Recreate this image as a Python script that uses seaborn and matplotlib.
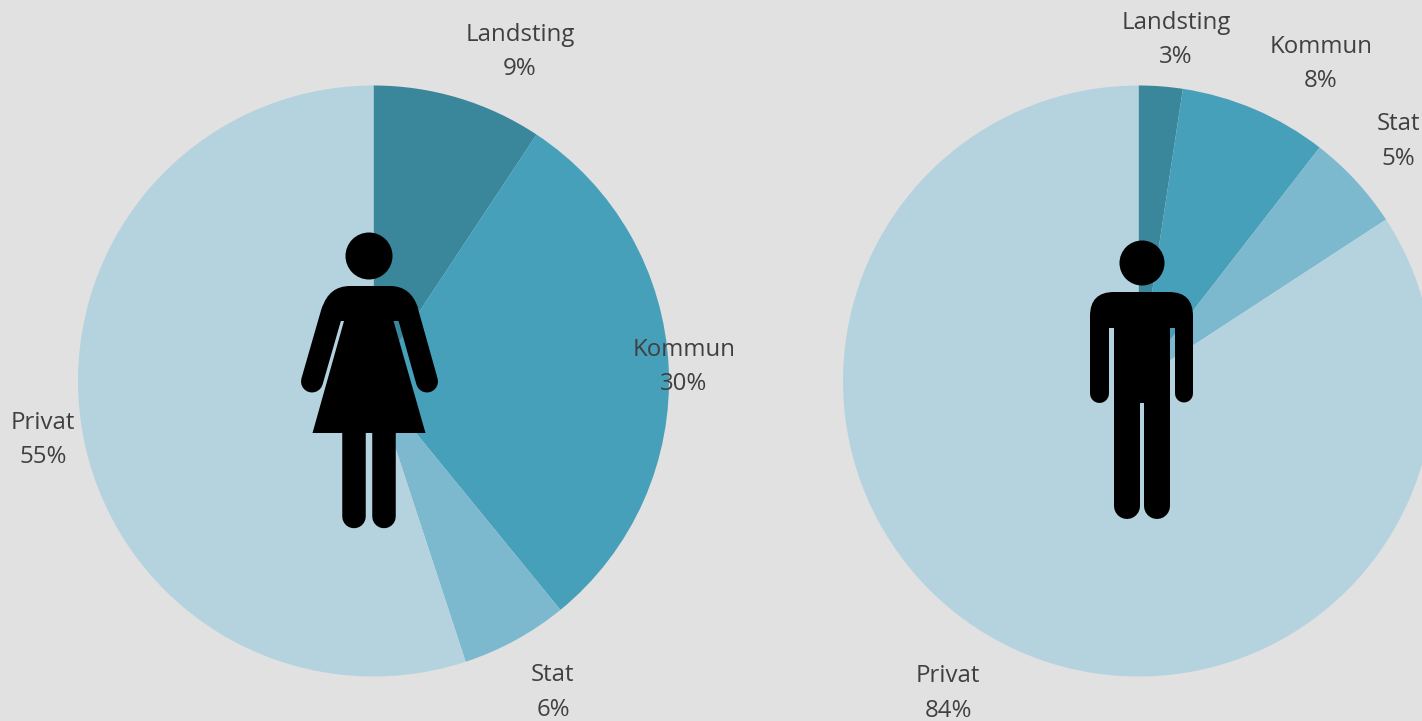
import matplotlib
matplotlib.use("Agg")
import matplotlib.pyplot as plt
from matplotlib.patches import Circle, PathPatch
from matplotlib.path import Path
import seaborn as sns

W, H = 1422, 721

sectors = ["Landsting", "Kommun", "Stat", "Privat"]
women = [9.3, 29.8, 5.85, 55.05]
men = [2.4, 8.1, 5.3, 84.2]
women_pct = ["9%", "30%", "6%", "55%"]
men_pct = ["3%", "8%", "5%", "84%"]

sns.set_theme(style="white")
plt.rcParams["font.family"] = ["Open Sans", "DejaVu Sans"]
colors = sns.color_palette(["#3A869B", "#46A0BA", "#7CB8CE", "#B5D3DE"])
BG = "#E1E1E1"
TEXT = "#404040"

fig = plt.figure(figsize=(W / 100, H / 100), dpi=100, facecolor=BG)


# pie axes placed by pixel centre
def draw_pie(values, cx, cy, r=295.5):
    ax = fig.add_axes([(cx - r) / W, 1 - (cy + r) / H, 2 * r / W, 2 * r / H])
    ax.pie(values, colors=colors, startangle=90, counterclock=False,
           wedgeprops=dict(linewidth=0))
    ax.set_xlim(-1, 1)
    ax.set_ylim(-1, 1)
    ax.set_aspect("equal")
    ax.axis("off")


draw_pie(women, 373.5, 381)
draw_pie(men, 1138.5, 381)

# overlay in pixel coordinates for the figures and labels
over = fig.add_axes([0, 0, 1, 1])
over.set_xlim(0, W)
over.set_ylim(H, 0)
over.axis("off")
over.patch.set_alpha(0)


def limb(x0, y0, x1, y1, width):
    # width is given in pixels, linewidth in points
    over.plot([x0, x1], [y0, y1], color="black", lw=width * 0.72,
              solid_capstyle="round", zorder=3, snap=False)


def outline(verts, codes):
    over.add_patch(PathPatch(Path(verts, codes), fc="black", ec="none", zorder=3, snap=False))


M, L, Q, C = Path.MOVETO, Path.LINETO, Path.CURVE3, Path.CLOSEPOLY

# woman
over.add_patch(Circle((369, 256), 23.5, fc="black", ec="none", zorder=3))
outline([(322, 308), (329, 286), (350, 286), (390, 286), (411, 286), (418, 308),
         (399, 321), (393.5, 321), (425.5, 433), (312.5, 433), (344, 321), (340, 321), (322, 308)],
        [M, Q, Q, L, Q, Q, L, L, L, L, L, L, C])
limb(332, 312, 312, 381.5, 22)
limb(407.5, 312, 427, 381.5, 22)
limb(354, 430, 354, 516.5, 23.5)
limb(384, 430, 384, 516.5, 23.5)

# man
over.add_patch(Circle((1142, 263), 22.5, fc="black", ec="none", zorder=3))
outline([(1090, 316), (1090, 292), (1114, 292), (1169, 292), (1193, 292), (1193, 316),
         (1193, 328), (1170, 328), (1170, 500), (1144, 500), (1144, 403), (1140, 403),
         (1140, 500), (1114, 500), (1114, 328), (1090, 328), (1090, 316)],
        [M, Q, Q, L, Q, Q, L, L, L, L, L, L, L, L, L, L, C])
limb(1099.5, 320, 1099.5, 393.5, 19)
limb(1184, 320, 1184, 393.5, 18)
limb(1127, 400, 1127, 506, 26)
limb(1157, 400, 1157, 506, 26)

# label pixel centres: name and percent rows
women_pos = [(520, 35, 69), (684, 350, 384), (553, 675, 710), (43, 423, 457)]
men_pos = [(1176, 23, 57), (1321, 47, 81), (1398, 124, 159), (948, 676, 711)]

for pos, pct in [(women_pos, women_pct), (men_pos, men_pct)]:
    for name, p, (x, y0, y1) in zip(sectors, pct, pos):
        over.text(x, y0, name, ha="center", va="center", fontsize=17.3, color=TEXT, zorder=4)
        over.text(x, y1, p, ha="center", va="center", fontsize=17.3, color=TEXT, zorder=4)

fig.savefig("out.png", dpi=100, facecolor=BG)
